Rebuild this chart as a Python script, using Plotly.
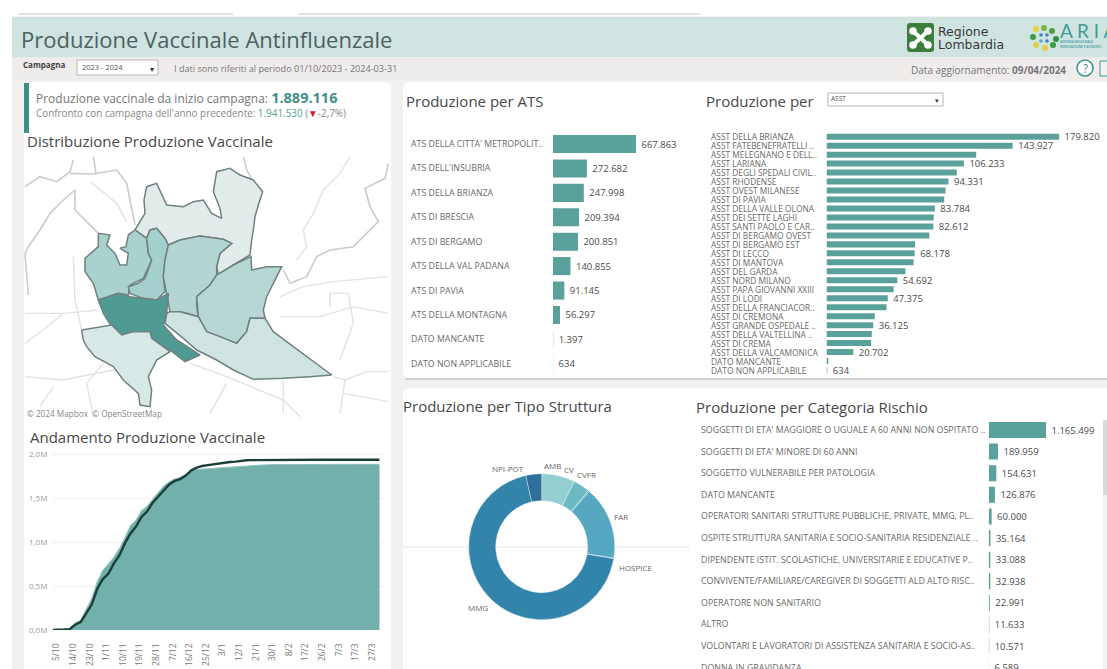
import plotly.graph_objects as go
from datetime import date, timedelta

W, H = 1107, 669
FONT = "Open Sans"
TEAL = "#5ba19b"
GREY = "#6a6a6a"

# ---------- data ----------
ats_names = ["ATS DELLA CITTA' METROPOLIT..", "ATS DELL'INSUBRIA", "ATS DELLA BRIANZA", "ATS DI BRESCIA",
             "ATS DI BERGAMO", "ATS DELLA VAL PADANA", "ATS DI PAVIA", "ATS DELLA MONTAGNA",
             "DATO MANCANTE", "DATO NON APPLICABILE"]
ats_values = [667863, 272682, 247998, 209394, 200851, 140855, 91145, 56297, 1397, 634]

asst_names = ["ASST DELLA BRIANZA", "ASST FATEBENEFRATELLI ..", "ASST MELEGNANO E DELL..", "ASST LARIANA",
              "ASST DEGLI SPEDALI CIVIL..", "ASST RHODENSE", "ASST OVEST MILANESE", "ASST DI PAVIA",
              "ASST DELLA VALLE OLONA", "ASST DEI SETTE LAGHI", "ASST SANTI PAOLO E CAR..", "ASST DI BERGAMO OVEST",
              "ASST DI BERGAMO EST", "ASST DI LECCO", "ASST DI MANTOVA", "ASST DEL GARDA", "ASST NORD MILANO",
              "ASST PAPA GIOVANNI XXIII", "ASST DI LODI", "ASST DELLA FRANCIACOR..", "ASST DI CREMONA",
              "ASST GRANDE OSPEDALE ..", "ASST DELLA VALTELLINA ..", "ASST DI CREMA", "ASST DELLA VALCAMONICA",
              "DATO MANCANTE", "DATO NON APPLICABILE"]
asst_values = [179820, 143927, 115700, 106233, 100700, 94331, 92000, 91000, 83784, 82900, 82612, 79500,
               68500, 68178, 67300, 61000, 54692, 51900, 47375, 46400, 37300, 36125, 35000, 34500,
               20702, 1397, 634]
asst_labelled = [179820, 143927, 106233, 94331, 83784, 82612, 68178, 54692, 47375, 36125, 20702, 634]

risk_names = ["SOGGETTI DI ETA' MAGGIORE O UGUALE A 60 ANNI NON OSPITATO ..", "SOGGETTI DI ETA' MINORE DI 60 ANNI",
              "SOGGETTO VULNERABILE PER PATOLOGIA", "DATO MANCANTE",
              "OPERATORI SANITARI STRUTTURE PUBBLICHE, PRIVATE, MMG, PL..",
              "OSPITE STRUTTURA SANITARIA E SOCIO-SANITARIA RESIDENZIALE ..",
              "DIPENDENTE ISTIT. SCOLASTICHE, UNIVERSITARIE E EDUCATIVE P..",
              "CONVIVENTE/FAMILIARE/CAREGIVER DI SOGGETTI ALD ALTO RISC..", "OPERATORE NON SANITARIO", "ALTRO",
              "VOLONTARI E LAVORATORI DI ASSISTENZA SANITARIA E SOCIO-AS..", "DONNA IN GRAVIDANZA"]
risk_values = [1165499, 189959, 154631, 126876, 60000, 35164, 33088, 32938, 22991, 11633, 10571, 6589]

tipo_names = ["AMB", "CV", "CVFR", "FAR", "HOSPICE", "MMG", "NPI-POT"]
tipo_values = [140000, 68000, 5700, 306000, 1900, 1301000, 66000]
tipo_colors = ["#93cfd0", "#6cb8c4", "#62b0c0", "#55a8bf", "#4b9cb8", "#3384aa", "#2e6f9b"]
tipo_label_pos = [(552, 465), (569, 469), (586, 474), (621, 516), (635, 567), (478, 607), (508, 468)]

corrente = [0, 0, .005, .012, .08, .11, .23, .36, .55, .68, .75, .83, .93, 1.05, 1.19, 1.25, 1.36, 1.41, 1.49, 1.56,
            1.64, 1.69, 1.72, 1.74, 1.78, 1.81, 1.83, 1.835, 1.84, 1.845, 1.85, 1.855, 1.86, 1.865, 1.87, 1.875,
            1.878, 1.88, 1.882, 1.884, 1.885, 1.886, 1.886, 1.887, 1.887, 1.887, 1.888, 1.888, 1.888, 1.888,
            1.888, 1.889, 1.889, 1.889, 1.889, 1.889, 1.889, 1.889, 1.889, 1.889]
precedente = [0, 0, .005, .01, .06, .09, .19, .29, .47, .58, .64, .76, .85, .99, 1.10, 1.18, 1.29, 1.35, 1.45, 1.52,
              1.60, 1.66, 1.70, 1.72, 1.76, 1.82, 1.85, 1.87, 1.88, 1.89, 1.90, 1.91, 1.915, 1.92, 1.93, 1.935,
              1.937, 1.938, 1.939, 1.94, 1.9405, 1.9405, 1.941, 1.941, 1.941, 1.941, 1.941, 1.9415, 1.9415, 1.9415,
              1.9415, 1.9415, 1.9415, 1.9415, 1.9415, 1.9415, 1.9415, 1.9415, 1.9415, 1.9415]
day_labels = ["5/10", "14/10", "23/10", "1/11", "10/11", "19/11", "28/11", "7/12", "16/12", "25/12", "3/1", "12/1",
              "21/1", "30/1", "8/2", "17/2", "26/2", "7/3", "17/3", "27/3"]

map_areas = {
    "#e1ecea": [(345,240),(360,215),(375,190),(372,150),(380,110),(410,100),(425,130),(440,165),(490,170),(520,155),(550,150),(575,190),(605,205),
                (600,175),(580,125),(590,65),(630,55),(660,75),(700,90),(728,125),(715,165),(705,200),(700,240),(695,270),
                (690,315),(640,345),(595,375),(590,350),(600,310),(635,280),(610,268),(540,258),(480,270),(445,285),
                (435,265),(410,235),(390,240),(380,265)],
    "#a9d1ce": [(235,250),(270,255),(260,285),(285,310),(300,345),(320,345),(325,310),(300,295),(318,290),(325,255),
                (345,240),(380,265),(385,310),(395,330),(370,385),(330,405),(325,435),(295,430),(265,440),(235,450),
                (220,400),(195,365),(195,325),(235,290)],
    "#a5cfcd": [(380,265),(390,240),(410,235),(435,265),(445,285),(435,330),(430,380),(435,425),(410,450),(370,445),
                (330,430),(325,410),(355,400),(375,385),(395,330),(385,310)],
    "#b3d5d2": [(445,285),(480,270),(540,258),(610,268),(635,280),(600,310),(590,350),(590,375),(570,405),(530,440),
                (530,470),(535,500),(500,490),(480,485),(450,485),(440,430),(430,380),(435,330)],
    "#b7d7d4": [(590,375),(640,345),(693,320),(695,360),(740,350),(785,350),(760,400),(740,440),(730,480),(735,505),
                (690,505),(680,545),(650,580),(600,560),(560,545),(535,500),(530,440),(570,405)],
    "#cfe3e0": [(450,485),(480,485),(535,500),(560,545),(600,560),(650,580),(680,545),(690,505),(735,505),(760,545),
                (800,575),(860,620),(935,675),(870,680),(790,685),(700,688),(640,660),(590,630),(560,615),(530,600),
                (490,565),(435,520),(440,490)],
    "#4f9a93": [(235,450),(265,440),(295,430),(330,440),(370,445),(410,450),(445,430),(440,490),(430,525),(470,570),
                (510,595),(540,615),(495,635),(450,600),(395,565),(390,545),(340,545),(305,555),(275,530),(250,490)],
    "#d8e8e6": [(185,540),(240,530),(275,525),(305,555),(340,545),(390,545),(395,565),(450,605),(410,630),(385,680),
                (395,720),(390,770),(360,765),(355,730),(310,690),(280,650),(225,620),(200,590),(190,570)],
}
map_borders = [
    [(15,110),(60,80),(110,95),(150,65),(160,30)],
    [(150,70),(220,72),(290,60),(320,100),(345,225)],
    [(220,20),(228,70)],
    [(15,310),(25,290),(60,240),(90,190),(130,150),(165,120),(165,180),(235,250)],
    [(15,310),(20,380),(25,435)],
    [(1105,40),(1095,85),(1035,115),(1050,170),(1075,215),(1040,250),(1000,290),(930,300),(890,320),(860,380),
     (810,400),(790,360)],
    [(670,20),(680,60),(695,85)],
]
map_roads = [
    [(990,20),(960,70),(910,120),(880,190),(850,240),(860,290),(830,330)],
    [(210,95),(290,160),(320,215)],
    [(15,490),(130,490),(235,480)],
    [(15,580),(70,540),(130,490)],
    [(160,320),(165,450),(185,540)],
    [(780,500),(900,500),(1000,470),(1105,490)],
    [(930,470),(930,430),(985,430),(1000,520),(960,630)],
    [(780,440),(850,410),(940,395),(1105,380)],
    [(15,680),(130,690),(280,660)],
    [(250,640),(200,700),(220,800)],
    [(510,640),(620,680),(790,750),(840,800)],
    [(940,680),(975,690),(1040,665),(1105,665)],
    [(975,690),(960,790)],
    [(790,690),(790,790)],
    [(620,700),(570,790)],
    [(970,730),(1105,755)],
    [(100,710),(60,770)],
]

# ---------- helpers ----------
def px(x): return x / W
def py(y): return 1 - y / H
def it(v): return f"{v:,}".replace(",", ".")

shapes, notes = [], []

def rect(x0, y0, x1, y1, color, line=None, layer="below"):
    shapes.append(dict(type="rect", xref="paper", yref="paper", x0=px(x0), x1=px(x1), y0=py(y0), y1=py(y1),
                       fillcolor=color, line=dict(color=line or color, width=1 if line else 0), layer=layer))

def card(x0, y0, x1, y1, r=7, color="white"):
    p = (f"M {px(x0+r)} {py(y0)} L {px(x1-r)} {py(y0)} Q {px(x1)} {py(y0)} {px(x1)} {py(y0+r)} "
         f"L {px(x1)} {py(y1-r)} Q {px(x1)} {py(y1)} {px(x1-r)} {py(y1)} L {px(x0+r)} {py(y1)} "
         f"Q {px(x0)} {py(y1)} {px(x0)} {py(y1-r)} L {px(x0)} {py(y0+r)} Q {px(x0)} {py(y0)} {px(x0+r)} {py(y0)} Z")
    shapes.append(dict(type="path", xref="paper", yref="paper", path=p, fillcolor=color,
                       line=dict(width=0), layer="below"))

def dot(cx, cy, r, color, layer="above", line=None):
    shapes.append(dict(type="circle", xref="paper", yref="paper", x0=px(cx-r), x1=px(cx+r), y0=py(cy-r), y1=py(cy+r),
                       fillcolor=color, line=dict(color=line or color, width=1.6 if line else 0), layer=layer))

def note(x, y, text, size=8, color=GREY, anchor="left", family=FONT):
    notes.append(dict(xref="paper", yref="paper", x=px(x), y=py(y), text=text, showarrow=False, xanchor=anchor,
                      yanchor="middle", font=dict(size=size, color=color, family=family), align="left",
                      borderpad=0, borderwidth=0))

def domain_x(a, b): return [px(a), px(b)]
def domain_y(top, bottom): return [py(bottom), py(top)]

fig = go.Figure()
axes = {}

def bar_panel(idx, names, values, texts, x0, x1, xmax, top, bottom, yrange, width, label_x, lab_size, val_size):
    xa, ya = ("x%d" % idx, "y%d" % idx)
    fig.add_trace(go.Bar(x=values, y=names, orientation="h", xaxis=xa, yaxis=ya, width=width,
                         marker=dict(color=TEAL, line=dict(width=0)), text=texts, textposition="outside",
                         cliponaxis=False, constraintext="none",
                         textfont=dict(size=val_size, color="#4a4a4a", family=FONT)))
    axes["xaxis%d" % idx] = dict(domain=domain_x(x0, x1), range=[0, xmax], visible=False, anchor=ya, fixedrange=True)
    axes["yaxis%d" % idx] = dict(domain=domain_y(top, bottom), type="category", categoryorder="array",
                                 categoryarray=names, range=yrange, visible=False, anchor=xa, fixedrange=True)
    for n in names:
        notes.append(dict(xref="paper", yref=ya, x=px(label_x), y=n, text=n, showarrow=False, xanchor="left",
                          yanchor="middle", borderpad=0, borderwidth=0,
                          font=dict(size=lab_size, color=GREY, family=FONT)))

# ---------- backgrounds ----------
rect(12, 16, W, H, "#f2f0f0")
rect(12, 17, W, 57, "#cfe3e1")
rect(12, 57, W, 80, "#efecec")
rect(18, 13, 233, 15, "#e2e2e2")
rect(298, 13, 700, 15, "#e2e2e2")
card(24, 82, 391, 680)
card(403, 82, 1112, 378)
shapes.append(dict(type="line", xref="paper", yref="paper", x0=px(405), x1=px(1107), y0=py(379), y1=py(379),
                   line=dict(color="#c9c9c9", width=1.5), layer="below"))
card(403, 388, 1112, 680)
rect(24, 83, 29, 133, "#3d8f88")
rect(1103, 420, 1107, 669, "#f2f2f2")
rect(1103, 420, 1107, 495, "#d9d9d9")
shapes.append(dict(type="line", xref="paper", yref="paper", x0=px(403), x1=px(690), y0=py(547), y1=py(547),
                   line=dict(color="#e9e9e9", width=1), layer="below"))

# ---------- header ----------
note(21, 39, "Produzione Vaccinale Antinfluenzale", 22, "#4f6160")
note(23, 65, "<b>Campagna</b>", 8, "#444")
rect(77, 60, 158, 75, "white", "#b5b5b5")
note(82, 67, "2023 - 2024", 7.5, "#555")
note(152, 68, "▾", 8, "#333", "center")
note(174, 69, "I dati sono riferiti al periodo 01/10/2023 - 2024-03-31", 9.1, "#777")
note(911, 70, "Data aggiornamento: <b>09/04/2024</b>", 10, "#777")
dot(1085, 68, 8, "white", line="#3d9a90")
note(1085, 68, "?", 12, "#3d9a90", "center")
rect(1100, 61, 1112, 76, "#f2f0f0", "#3d9a90")

# logos
card(907, 23, 934, 52, r=3, color="#3c7f3a")
shapes.append(dict(type="line", xref="paper", yref="paper", x0=px(913), x1=px(928), y0=py(31), y1=py(45),
                   line=dict(color="white", width=4), layer="above"))
shapes.append(dict(type="line", xref="paper", yref="paper", x0=px(913), x1=px(928), y0=py(45), y1=py(31),
                   line=dict(color="white", width=4), layer="above"))
for c in [(913, 31), (928, 31), (913, 45), (928, 45)]:
    dot(c[0], c[1], 3.8, "white")
note(938, 32, "Regione", 12.5, "#3a3a3a", family="DejaVu Sans")
note(938, 45, "Lombardia", 12.5, "#3a3a3a", family="DejaVu Sans")
for (cx, cy, r, c) in [(1036, 29, 3, "#e4d13c"), (1044, 28, 3, "#7db53f"), (1052, 31, 3, "#4f9b3f"), (1033, 37, 3, "#3d9b45"),
                       (1056, 39, 3, "#2f8f3c"), (1036, 45, 3, "#dcd24a"), (1045, 48, 3, "#e4d13c"), (1053, 45, 3, "#3d9b45"),
                       (1041, 35, 1.8, "#3f87c0"), (1047, 35, 1.8, "#3f87c0"), (1041, 41, 1.8, "#5cb0c8"), (1047, 41, 1.8, "#3f87c0")]:
    dot(cx, cy, r, c)
note(1060, 31, "A R I A", 19, "#3f9d93", family="Lato")
note(1060, 42, "<b>AZIENDA REGIONALE</b>", 3.2, "#5aa")
note(1060, 47, "<b>INNOVAZIONE E ACQUISTI</b>", 3.2, "#5aa")

# ---------- left card text ----------
note(36, 97, "Produzione vaccinale da inizio campagna: <span style='font-size:14.5px;color:#3f8f88'><b>1.889.116</b></span>", 12, "#777")
note(36, 113, "Confronto con campagna dell'anno precedente: <span style='color:#4f9f98'>1.941.530</span> (<span style='color:#d0213a'>▼</span>-2,7%)", 9.9, "#888")
note(27, 141, "Distribuzione Produzione Vaccinale", 15, "#474747")
note(27, 413, "© 2024 Mapbox  © OpenStreetMap", 8.2, "#888")
note(30, 437, "Andamento Produzione Vaccinale", 15, "#474747")

# ---------- map ----------
def line_xy(lines):
    xs, ys = [], []
    for ln in lines:
        xs += [p[0] for p in ln] + [None]
        ys += [p[1] for p in ln] + [None]
    return xs, ys

rx, ry = line_xy(map_roads)
fig.add_trace(go.Scatter(x=rx, y=ry, mode="lines", xaxis="x1", yaxis="y1", line=dict(color="#e2e2e2", width=1.4)))
bx, by = line_xy(map_borders)
fig.add_trace(go.Scatter(x=bx, y=by, mode="lines", xaxis="x1", yaxis="y1", line=dict(color="#cbcbcb", width=1.6)))
for color, pts in map_areas.items():
    fig.add_trace(go.Scatter(x=[p[0] for p in pts] + [pts[0][0]], y=[p[1] for p in pts] + [pts[0][1]],
                             mode="lines", xaxis="x1", yaxis="y1", fill="toself", fillcolor=color,
                             line=dict(color="#6f8180", width=1.5)))
axes["xaxis1"] = dict(domain=domain_x(20, 400), range=[0, 1140], visible=False, anchor="y1", fixedrange=True)
axes["yaxis1"] = dict(domain=domain_y(150, 430), range=[840, 0], visible=False, anchor="x1", fixedrange=True)

# ---------- line / area ----------
d0 = date(2023, 10, 3)
days = [d0 + timedelta(days=3 * i) for i in range(len(corrente))]
fig.add_trace(go.Scatter(x=days, y=[v * 1e6 for v in corrente], mode="lines", xaxis="x5", yaxis="y5", fill="tozeroy",
                         fillcolor="#72b0ab", line=dict(color="#8dbfba", width=1)))
fig.add_trace(go.Scatter(x=days, y=[v * 1e6 for v in precedente], mode="lines", xaxis="x5", yaxis="y5",
                         line=dict(color="#1d3f3b", width=2.4)))
tick_days = [date(2023, 10, 5) + timedelta(days=9 * i) for i in range(len(day_labels))]
axes["xaxis5"] = dict(domain=domain_x(53, 385), type="date", range=[date(2023, 10, 3), date(2024, 3, 31)], anchor="y5",
                      tickmode="array", tickvals=tick_days, ticktext=day_labels, tickangle=-90, showgrid=False,
                      showline=False, zeroline=False, ticks="outside", ticklen=9, tickcolor="rgba(0,0,0,0)",
                      tickfont=dict(size=8.5, color="#777", family=FONT), fixedrange=True)
axes["yaxis5"] = dict(domain=domain_y(450, 630), range=[0, 2.052e6], anchor="x5", tickmode="array",
                      tickvals=[0, 5e5, 1e6, 1.5e6, 2e6], ticktext=["0,0M", "0,5M", "1,0M", "1,5M", "2,0M"],
                      tickfont=dict(size=8, color="#999", family=FONT), showgrid=True, gridcolor="#f1f1f1",
                      zeroline=False, showline=False, ticks="outside", ticklen=3, tickcolor="rgba(0,0,0,0)", fixedrange=True)

# ---------- bars ----------
bar_panel(2, ats_names, ats_values, [" " + it(v) for v in ats_values], 553, 700, 1.183e6, 131.8, 376,
          [len(ats_names) - 0.5, -0.5], 0.74, 411, 8.8, 9.5)
bar_panel(3, asst_names, asst_values, [" " + it(v) if v in asst_labelled else "" for v in asst_values],
          826.5, 1107, 216850, 132.2, 374.5, [len(asst_names) - 0.5, -0.5], 0.67, 711, 8.4, 9.5)
bar_panel(4, risk_names, risk_values, [" " + it(v) for v in risk_values], 988.7, 1102, 2.305e6, 419.2, 669,
          [11.06, -0.5], 0.74, 700.7, 8.85, 9.5)

note(406, 101, "Produzione per ATS", 15, "#474747")
note(706, 101, "Produzione per", 15, "#474747")
rect(828, 93, 943, 106, "white", "#b5b5b5")
note(831, 99, "ASST", 6.5, "#555")
note(937, 100, "▾", 7, "#333", "center")
note(403, 406, "Produzione per Tipo Struttura", 15, "#474747")
note(696, 407, "Produzione per Categoria Rischio", 15, "#474747")

# ---------- donut ----------
fig.add_trace(go.Pie(labels=tipo_names, values=tipo_values, hole=0.63, sort=False, direction="clockwise", rotation=0,
                     textinfo="none", marker=dict(colors=tipo_colors, line=dict(color="#e8f6f8", width=0.4)),
                     domain=dict(x=domain_x(468.7, 614.7), y=domain_y(473.7, 619.7)), showlegend=False))
for name, pos in zip(tipo_names, tipo_label_pos):
    note(pos[0], pos[1], name, 8, "#666", "center")

fig.update_layout(width=W, height=H, margin=dict(l=0, r=0, t=0, b=0, autoexpand=False), paper_bgcolor="white",
                  plot_bgcolor="rgba(0,0,0,0)", showlegend=False, hovermode=False, shapes=shapes, annotations=notes,
                  bargap=0.2, font=dict(family=FONT), **axes)
fig.write_html("out.html", config=dict(displayModeBar=False, staticPlot=True),
               post_script="document.body.style.margin='0';document.body.style.overflow='hidden';")
